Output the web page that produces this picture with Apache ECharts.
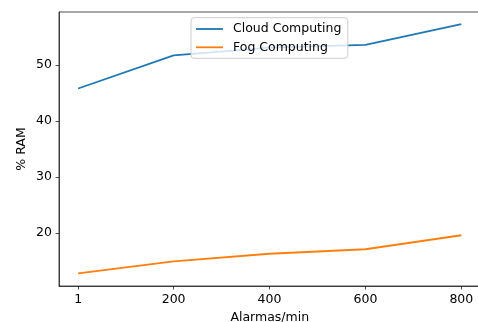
<!DOCTYPE html>
<html><head><meta charset="utf-8">
<script src="https://cdn.jsdelivr.net/npm/echarts@6/dist/echarts.min.js"></script>
<style>html,body{margin:0;padding:0;background:#fff}#c{width:478px;height:322px}</style>
</head><body><div id="c"></div>
<script>
const alarmas = [1, 200, 400, 600, 800];
const cloud = [45.8, 51.7, 53.1, 53.6, 57.3];
const fog = [12.8, 14.95, 16.3, 17.1, 19.6];
const xTicks = [1, 200, 400, 600, 800];
const yTicks = [20, 30, 40, 50];
const font = 'DejaVu Sans';
const fs = 12.5;
const chart = echarts.init(document.getElementById('c'), null, {renderer: 'canvas'});
chart.setOption({
  animation: false,
  grid: {left: 59, top: 12, right: -2.5, bottom: 36, containLabel: false, outerBoundsMode: 'none',
         show: true, borderColor: '#222', borderWidth: 0.8, backgroundColor: 'transparent'},
  legend: {
    orient: 'vertical', left: 191, top: 17.7,
    data: ['Cloud Computing', 'Fog Computing'],
    icon: 'rect', itemWidth: 27, itemHeight: 1.8, itemGap: 4.3,
    padding: [4.3, 6.5, 4, 5],
    backgroundColor: 'rgba(255,255,255,0.8)', borderColor: '#cccccc', borderWidth: 1, borderRadius: 3,
    textStyle: {fontFamily: font, fontSize: fs, lineHeight: 14, color: '#000', padding: [0, 0, 0, 5]}
  },
  xAxis: {
    type: 'value', min: -39, max: 840,
    name: 'Alarmas/min', nameLocation: 'middle', nameGap: 25,
    nameTextStyle: {fontFamily: font, fontSize: fs, color: '#000'},
    axisLine: {show: true, onZero: false, lineStyle: {color: '#222', width: 0.8}},
    axisTick: {show: true, inside: false, length: 3.5, customValues: xTicks, lineStyle: {color: '#222', width: 0.8}},
    axisLabel: {customValues: xTicks, fontFamily: font, fontSize: fs, color: '#000', margin: 7},
    splitLine: {show: false}
  },
  yAxis: {
    type: 'value', min: 10.54, max: 59.46,
    name: '% RAM', nameLocation: 'middle', nameRotate: 90, nameGap: 31, nameMoveOverlap: false,
    nameTextStyle: {fontFamily: font, fontSize: fs, color: '#000'},
    axisLine: {show: true, onZero: false, lineStyle: {color: '#222', width: 0.8}},
    axisTick: {show: true, inside: false, length: 3.5, customValues: yTicks, lineStyle: {color: '#222', width: 0.8}},
    axisLabel: {customValues: yTicks, fontFamily: font, fontSize: fs, color: '#000', margin: 7},
    splitLine: {show: false}
  },
  series: [
    {name: 'Cloud Computing', type: 'line', symbol: 'none', data: alarmas.map((x, i) => [x, cloud[i]]),
     lineStyle: {color: '#1f77b4', width: 1.8}, itemStyle: {color: '#1f77b4'}, z: 2},
    {name: 'Fog Computing', type: 'line', symbol: 'none', data: alarmas.map((x, i) => [x, fog[i]]),
     lineStyle: {color: '#ff7f0e', width: 1.8}, itemStyle: {color: '#ff7f0e'}, z: 2}
  ]
});
</script></body></html>
